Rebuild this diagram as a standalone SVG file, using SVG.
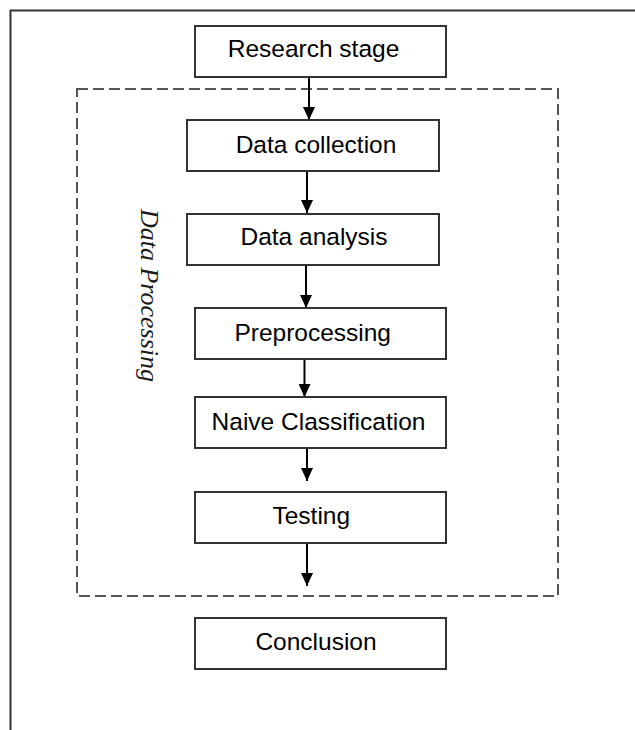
<svg xmlns="http://www.w3.org/2000/svg" width="635" height="730" viewBox="0 0 635 730">
<defs>
<style>
.box{fill:#fff;stroke:#333;stroke-width:2}
.lbl{font-family:"Liberation Sans",Arial,sans-serif;font-size:24.5px;fill:#000;text-anchor:middle}
.conn{stroke:#000;stroke-width:2;fill:none;marker-end:url(#ah)}
</style>
<marker id="ah" markerWidth="13" markerHeight="12" refX="13" refY="6" orient="auto" markerUnits="userSpaceOnUse">
<path d="M0,0 L13,6 L0,12 z" fill="#000"/>
</marker>
</defs>
<rect width="635" height="730" fill="#fff"/>
<g id="frame">
<path d="M10.5,730 V10.5 H635" fill="none" stroke="#333" stroke-width="2"/>
</g>
<g id="data-processing-group">
<rect x="77" y="89" width="481" height="507" fill="none" stroke="#555" stroke-width="2" stroke-dasharray="11,5"/>
<text transform="translate(141,295.5) rotate(90)" font-family="'Liberation Serif','Times New Roman',serif" font-style="italic" font-size="26" text-anchor="middle" fill="#1a1a1a">Data Processing</text>
</g>
<g id="connectors">
<line class="conn" x1="309" y1="77" x2="309" y2="120"/>
<line class="conn" x1="307" y1="171" x2="307" y2="213"/>
<line class="conn" x1="306" y1="265" x2="306" y2="308"/>
<line class="conn" x1="304.5" y1="359" x2="304.5" y2="397"/>
<line class="conn" x1="307" y1="448" x2="307" y2="481"/>
<line class="conn" x1="307" y1="543" x2="307" y2="586"/>
</g>
<g id="research-stage">
<rect class="box" x="195" y="26" width="251" height="51"/>
<text class="lbl" x="313.5" y="57">Research stage</text>
</g>
<g id="data-collection">
<rect class="box" x="187" y="120" width="252" height="51"/>
<text class="lbl" x="316" y="153">Data collection</text>
</g>
<g id="data-analysis">
<rect class="box" x="187" y="214" width="252" height="51"/>
<text class="lbl" x="314" y="245">Data analysis</text>
</g>
<g id="preprocessing">
<rect class="box" x="195" y="308" width="251" height="51"/>
<text class="lbl" x="312.7" y="341">Preprocessing</text>
</g>
<g id="naive-classification">
<rect class="box" x="195" y="397" width="251" height="51"/>
<text class="lbl" x="318.5" y="430">Naive Classification</text>
</g>
<g id="testing">
<rect class="box" x="195" y="492" width="251" height="51"/>
<text class="lbl" x="311.3" y="524">Testing</text>
</g>
<g id="conclusion">
<rect class="box" x="195" y="618" width="251" height="51"/>
<text class="lbl" x="316" y="650">Conclusion</text>
</g>
</svg>
